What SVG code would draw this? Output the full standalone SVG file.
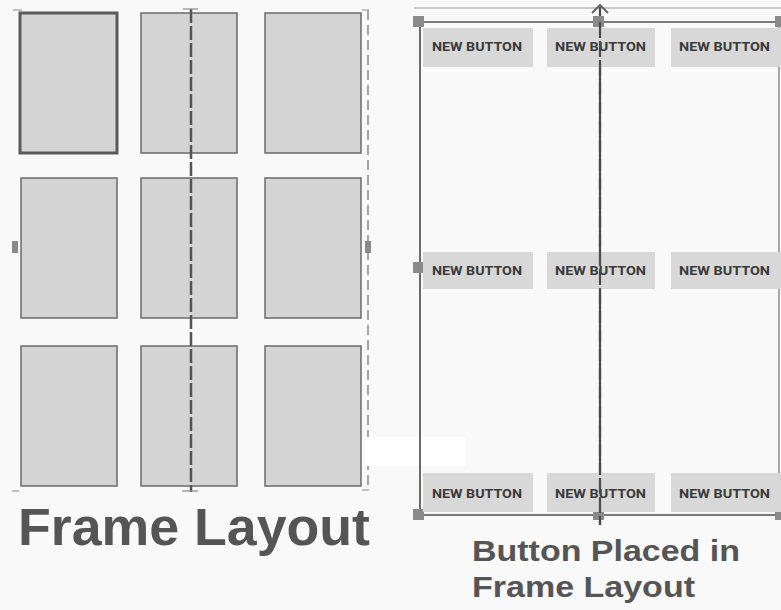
<svg xmlns="http://www.w3.org/2000/svg" width="781" height="610" viewBox="0 0 781 610">
<style>
.box{fill:#d4d4d4;stroke:#6a6a6a;stroke-width:1.5}
.btn{fill:#d8d8d8}
.bt{font-family:Roboto,"Liberation Sans",sans-serif;font-weight:700;font-size:13px;fill:#3a3a3a}
.title{font-family:"Liberation Sans",Arial,sans-serif;font-weight:700;fill:#555}
.h{fill:#8a8a8a}
.guide{stroke:#6a6a6a;fill:none}
</style>
<rect x="0" y="0" width="781" height="610" fill="#f9f9f9"/>
<g id="frame-layout">
<g id="box-1-1"><rect class="box" x="20" y="13" width="97" height="140" style="stroke-width:3;stroke:#5a5a5a"/></g>
<g id="box-1-2"><rect class="box" x="141" y="13" width="96" height="140"/></g>
<g id="box-1-3"><rect class="box" x="265" y="13" width="96" height="140"/></g>
<g id="box-2-1"><rect class="box" x="21" y="178" width="96" height="140"/></g>
<g id="box-2-2"><rect class="box" x="141" y="178" width="96" height="140"/></g>
<g id="box-2-3"><rect class="box" x="265" y="178" width="96" height="140"/></g>
<g id="box-3-1"><rect class="box" x="21" y="346" width="96" height="140"/></g>
<g id="box-3-2"><rect class="box" x="141" y="346" width="96" height="140"/></g>
<g id="box-3-3"><rect class="box" x="265" y="346" width="96" height="140"/></g>
</g>
<g id="guides-left">
<line class="guide" x1="191" y1="9" x2="191" y2="492" stroke-width="2.5" stroke-dasharray="14 3" style="stroke:#555"/>
<line class="guide" x1="368" y1="10" x2="368" y2="490" stroke-width="1.5" stroke-dasharray="10 5" style="stroke:#888"/>
<line class="guide" x1="13" y1="10" x2="22" y2="10" stroke-width="1.2" style="stroke:#999"/>
<line class="guide" x1="183" y1="9" x2="198" y2="9" stroke-width="1.2" style="stroke:#888"/>
<line class="guide" x1="362" y1="10" x2="369" y2="10" stroke-width="1.2" style="stroke:#999"/>
<line class="guide" x1="12" y1="491" x2="19" y2="491" stroke-width="1.2" style="stroke:#999"/>
<line class="guide" x1="182" y1="491" x2="198" y2="491" stroke-width="1.2" style="stroke:#888"/>
<line class="guide" x1="362" y1="490" x2="369" y2="490" stroke-width="1.2" style="stroke:#999"/>
<rect class="h" x="12" y="241" width="6" height="12"/>
<rect class="h" x="365" y="241" width="6" height="12"/>
</g>
<text class="title" x="18" y="545" font-size="51" textLength="352" lengthAdjust="spacingAndGlyphs">Frame Layout</text>
<rect x="365" y="437" width="101" height="29" fill="#ffffff"/>
<g id="guides-right">
<line x1="414" y1="8" x2="781" y2="8" stroke="#c8c8c8" stroke-width="2"/>
<line x1="419" y1="22" x2="781" y2="22" stroke="#7a7a7a" stroke-width="2"/>
<line x1="419" y1="515" x2="781" y2="515" stroke="#7a7a7a" stroke-width="2"/>
<line x1="420" y1="22" x2="420" y2="515" stroke="#6a6a6a" stroke-width="2"/>
<line x1="779" y1="22" x2="779" y2="515" stroke="#8a8a8a" stroke-width="1.5"/>
<line x1="600" y1="7" x2="600" y2="525" stroke="#4a4a4a" stroke-width="2.2" stroke-dasharray="16 3"/>
<path d="M592 13 L600 5 L608 13" fill="none" stroke="#666" stroke-width="2"/>
<rect class="h" x="413" y="16" width="11" height="11"/>
<rect class="h" x="593" y="16" width="11" height="11"/>
<rect class="h" x="775" y="16" width="8" height="11"/>
<rect class="h" x="413" y="262" width="11" height="11"/>
<rect class="h" x="775" y="262" width="8" height="11"/>
<rect class="h" x="413" y="509" width="11" height="11"/>
<rect class="h" x="593" y="509" width="11" height="11"/>
<rect class="h" x="775" y="509" width="8" height="11"/>
</g>
<g id="btn-1-1"><rect class="btn" x="423" y="28" width="110" height="39"/><text class="bt" x="432" y="51" textLength="90" lengthAdjust="spacingAndGlyphs">NEW BUTTON</text></g>
<g id="btn-1-2"><rect class="btn" x="547" y="28" width="108" height="39"/><text class="bt" x="555" y="51" textLength="91" lengthAdjust="spacingAndGlyphs">NEW BUTTON</text></g>
<g id="btn-1-3"><rect class="btn" x="671" y="28" width="110" height="39"/><text class="bt" x="679" y="51" textLength="91" lengthAdjust="spacingAndGlyphs">NEW BUTTON</text></g>
<g id="btn-2-1"><rect class="btn" x="423" y="252" width="110" height="37"/><text class="bt" x="432" y="275" textLength="90" lengthAdjust="spacingAndGlyphs">NEW BUTTON</text></g>
<g id="btn-2-2"><rect class="btn" x="547" y="252" width="108" height="37"/><text class="bt" x="555" y="275" textLength="91" lengthAdjust="spacingAndGlyphs">NEW BUTTON</text></g>
<g id="btn-2-3"><rect class="btn" x="671" y="252" width="110" height="37"/><text class="bt" x="679" y="275" textLength="91" lengthAdjust="spacingAndGlyphs">NEW BUTTON</text></g>
<g id="btn-3-1"><rect class="btn" x="423" y="473" width="110" height="39"/><text class="bt" x="432" y="498" textLength="90" lengthAdjust="spacingAndGlyphs">NEW BUTTON</text></g>
<g id="btn-3-2"><rect class="btn" x="547" y="473" width="108" height="39"/><text class="bt" x="555" y="498" textLength="91" lengthAdjust="spacingAndGlyphs">NEW BUTTON</text></g>
<g id="btn-3-3"><rect class="btn" x="671" y="473" width="110" height="39"/><text class="bt" x="679" y="498" textLength="91" lengthAdjust="spacingAndGlyphs">NEW BUTTON</text></g>
<line x1="600" y1="22" x2="600" y2="525" stroke="#4a4a4a" stroke-width="2.2" stroke-dasharray="16 3"/>
<text class="title" x="472" y="561" font-size="29" textLength="268" lengthAdjust="spacingAndGlyphs">Button Placed in</text>
<text class="title" x="472" y="597" font-size="29" textLength="223" lengthAdjust="spacingAndGlyphs">Frame Layout</text>
</svg>
